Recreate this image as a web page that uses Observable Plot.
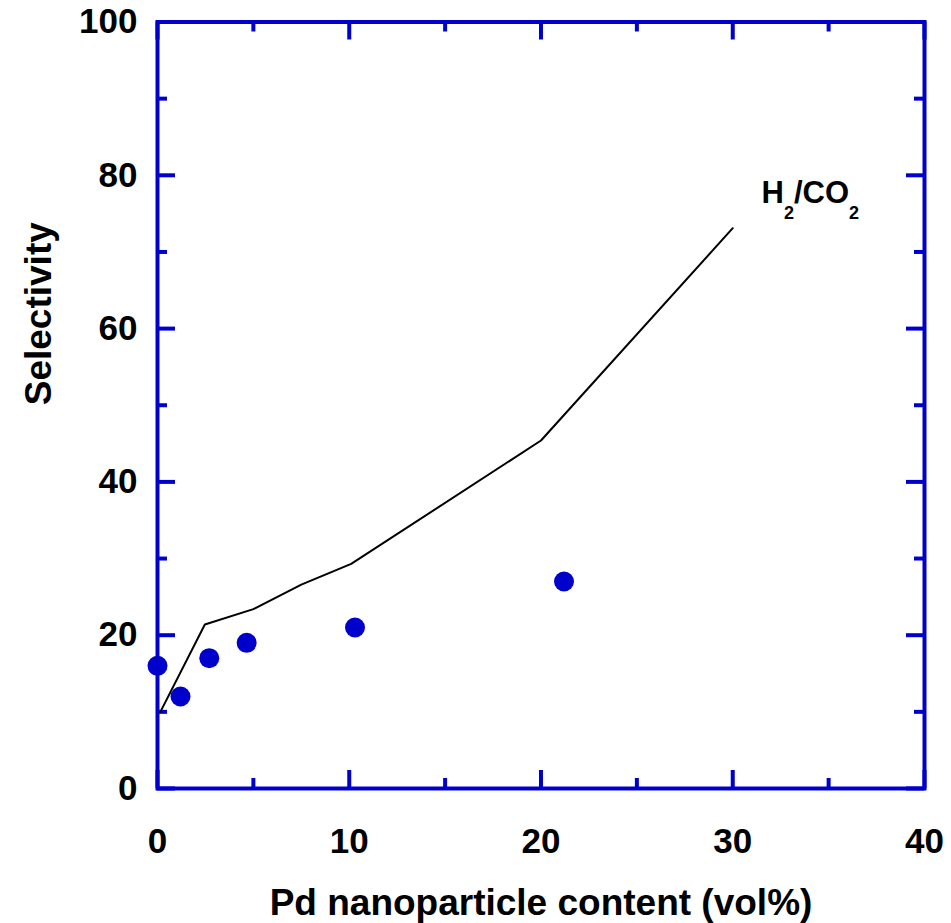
<!DOCTYPE html>
<html>
<head>
<meta charset="utf-8">
<script src="https://cdn.jsdelivr.net/npm/d3@7"></script>
<script src="https://cdn.jsdelivr.net/npm/@observablehq/plot@0.6"></script>
<style>
  html, body { margin: 0; padding: 0; background: #fff; }
  #chart { width: 951px; height: 923px; overflow: hidden; }
</style>
</head>
<body>
<div id="chart"></div>
<script>
// ---- data ----
const pdContent   = [0, 1.2, 2.7, 4.65, 10.3, 21.2];   // measured points (vol%)
const selectivity = [16, 12, 17, 19, 21, 27];

const modelX = [0.15, 2.47, 5.0, 7.5, 10.1, 20.0, 30.0]; // H2/CO2 model curve
const modelY = [10, 21.4, 23.4, 26.6, 29.3, 45.4, 73.1];

const xMajor = [0, 10, 20, 30, 40];
const xMinor = [5, 15, 25, 35];
const yMajor = [0, 20, 40, 60, 80, 100];
const yMinor = [10, 30, 50, 70, 90];

const curveLabel = {x: 31.5, y: 77.7, text: "H2/CO2"};
const xTitle = "Pd nanoparticle content (vol%)";
const yTitle = "Selectivity";

// ---- layout ----
const W = 951, H = 923;
const mL = 157, mR = 27, mT = 21.5, mB = 135;
const fw = W - mL - mR, fh = H - mT - mB;
const blue = "#0000cc";
const major = 18, minor = 10;

const points = pdContent.map((x, i) => ({x, y: selectivity[i]}));
const curve = modelX.map((x, i) => ({x, y: modelY[i]}));

const plot = Plot.plot({
  width: W, height: H,
  marginLeft: mL, marginRight: mR, marginTop: mT, marginBottom: mB,
  x: {domain: [0, 40]},
  y: {domain: [0, 100]},
  style: {fontFamily: "'Liberation Sans', Arial, sans-serif", fontWeight: "bold", color: "black", background: "white"},
  marks: [
    Plot.frame({stroke: blue, strokeWidth: 4}),
    // bottom ticks
    Plot.tickX(xMajor, {x: d => d, stroke: blue, strokeWidth: 4, insetTop: fh - major}),
    Plot.tickX(xMinor, {x: d => d, stroke: blue, strokeWidth: 4, insetTop: fh - minor}),
    // top ticks
    Plot.tickX(xMajor, {x: d => d, stroke: blue, strokeWidth: 4, insetBottom: fh - major}),
    Plot.tickX(xMinor, {x: d => d, stroke: blue, strokeWidth: 4, insetBottom: fh - minor}),
    // left ticks
    Plot.tickY(yMajor, {y: d => d, stroke: blue, strokeWidth: 4, insetRight: fw - major}),
    Plot.tickY(yMinor, {y: d => d, stroke: blue, strokeWidth: 4, insetRight: fw - minor}),
    // right ticks
    Plot.tickY(yMajor, {y: d => d, stroke: blue, strokeWidth: 4, insetLeft: fw - major}),
    Plot.tickY(yMinor, {y: d => d, stroke: blue, strokeWidth: 4, insetLeft: fw - minor}),
    // tick labels
    Plot.axisX({anchor: "bottom", ticks: xMajor, tickSize: 0, tickPadding: 40, fontSize: 35, label: null}),
    Plot.axisY({anchor: "left", ticks: yMajor, tickSize: 0, tickPadding: 20, fontSize: 35, label: null}),
    // titles
    Plot.text([xTitle], {frameAnchor: "bottom", dy: 126, lineAnchor: "bottom", fontSize: 37, fontWeight: "bold", fill: "black"}),
    Plot.text([yTitle], {frameAnchor: "left", rotate: -90, dx: -107, lineAnchor: "bottom", fontSize: 37, fontWeight: "bold", fill: "black"}),
    // model line
    Plot.line(curve, {x: "x", y: "y", stroke: "black", strokeWidth: 2}),
    // measured dots
    Plot.dot(points, {x: "x", y: "y", r: 10, fill: blue, stroke: "none"}),
    // curve label
    Plot.text([curveLabel], {x: "x", y: "y", text: "text", textAnchor: "start", fontSize: 31, fontWeight: "bold", fill: "black", className: "curve-label"})
  ]
});

document.getElementById("chart").appendChild(plot);

// rich text for subscripts in the curve label
d3.select(plot).selectAll(".curve-label text").each(function() {
  const t = d3.select(this);
  t.text(null);
  t.append("tspan").text("H");
  t.append("tspan").attr("dy", 16).attr("font-size", 18).text("2");
  t.append("tspan").attr("dy", -16).text("/CO");
  t.append("tspan").attr("dy", 16).attr("font-size", 18).text("2");
});
</script>
</body>
</html>
